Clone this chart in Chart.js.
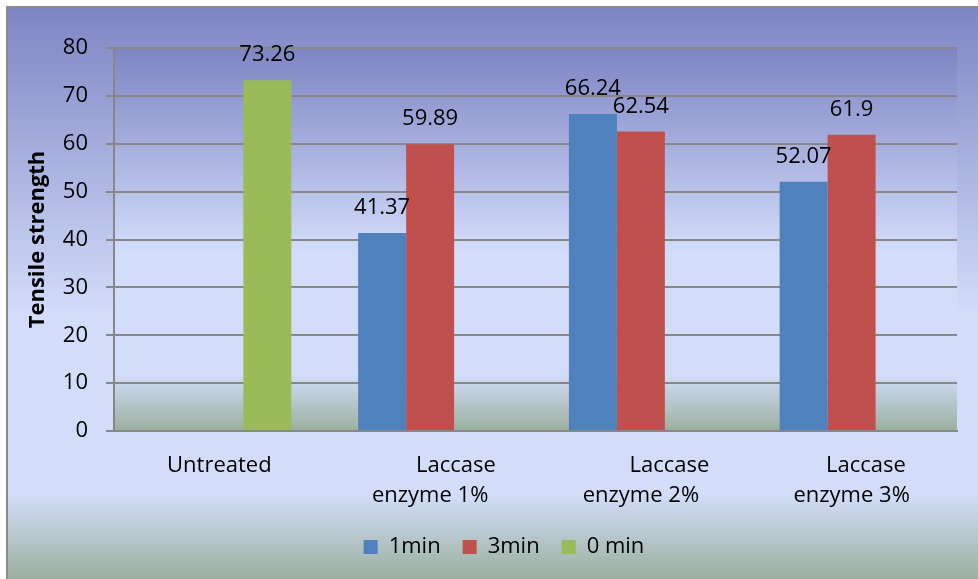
<!DOCTYPE html>
<html>
<head>
<meta charset="utf-8">
<script src="https://cdn.jsdelivr.net/npm/chart.js@4.4.1/dist/chart.umd.min.js"></script>
<style>
  html, body { margin: 0; padding: 0; background: #ffffff; }
  canvas { display: block; }
</style>
</head>
<body>
<canvas id="chart" width="978" height="579"></canvas>
<script>
// Category labels (leading spaces keep the wrapped first line offset as in the source layout)
const categories = [
  ['Untreated'],
  ['         Laccase', 'enzyme 1%'],
  ['          Laccase', 'enzyme 2%'],
  ['     Laccase', 'enzyme 3%']
];

// Series names and values (Tensile strength)
const seriesNames = ['1min', '3min', '0 min'];
const oneMin   = [null, 41.37, 66.24, 52.07];
const threeMin = [null, 59.89, 62.54, 61.9];
const zeroMin  = [73.26, null, null, null];

// Y axis ticks
const yMin = 0;
const yMax = 80;
const yStep = 10;
const yTitle = 'Tensile strength';

const seriesColors = ['#4f81bd', '#c0504d', '#9bbb59'];
const FONT = '"Open Sans"';
const GRID = '#878787';

// Vertical blue-to-pale-to-sage fill used for the chart and plot backgrounds
function fillGradient(ctx, x, y, w, h) {
  const g = ctx.createLinearGradient(0, y, 0, y + h);
  g.addColorStop(0, '#7f85c3');
  g.addColorStop(0.54, '#d3ddfa');
  g.addColorStop(0.85, '#d3ddfa');
  g.addColorStop(1, '#9bb09f');
  ctx.fillStyle = g;
  ctx.fillRect(x, y, w, h);
}

const backdrop = {
  id: 'backdrop',
  beforeDraw(chart) {
    const { ctx, width, height, chartArea: a } = chart;
    ctx.save();
    ctx.fillStyle = '#ffffff';
    ctx.fillRect(0, 0, width, height);
    fillGradient(ctx, 7, 7, width - 7, height - 7);
    ctx.strokeStyle = '#8c8c8c';
    ctx.lineWidth = 2;
    ctx.beginPath();
    ctx.moveTo(7, height);
    ctx.lineTo(7, 7);
    ctx.lineTo(width, 7);
    ctx.stroke();
    fillGradient(ctx, a.left, a.top, a.right - a.left, a.bottom - a.top);
    ctx.restore();
  }
};

// Value labels above each bar
const valueLabels = {
  id: 'valueLabels',
  afterDatasetsDraw(chart) {
    const { ctx } = chart;
    ctx.save();
    ctx.font = `22px ${FONT}`;
    ctx.fillStyle = '#000000';
    ctx.textAlign = 'center';
    ctx.textBaseline = 'alphabetic';
    chart.data.datasets.forEach((ds, di) => {
      const meta = chart.getDatasetMeta(di);
      meta.data.forEach((bar, i) => {
        const v = ds.data[i];
        if (v === null || v === undefined) return;
        ctx.fillText(String(v), bar.x, bar.y - 19);
      });
    });
    ctx.restore();
  }
};

const PAD_LEFT = 51;

new Chart(document.getElementById('chart'), {
  type: 'bar',
  data: {
    labels: categories,
    datasets: [
      { label: seriesNames[0], data: oneMin,   backgroundColor: seriesColors[0] },
      { label: seriesNames[1], data: threeMin, backgroundColor: seriesColors[1] },
      { label: seriesNames[2], data: zeroMin,  backgroundColor: seriesColors[2] }
    ]
  },
  options: {
    responsive: false,
    animation: false,
    devicePixelRatio: 1,
    layout: { padding: { left: PAD_LEFT, right: 21, top: 48, bottom: 11 } },
    datasets: { bar: { barPercentage: 1, categoryPercentage: 0.683, borderWidth: 0 } },
    scales: {
      x: {
        grid: { display: false },
        border: { display: true, color: GRID, width: 2 },
        ticks: {
          color: '#000000',
          font: { family: FONT, size: 22, lineHeight: 1.364 },
          padding: 12,
          maxRotation: 0,
          autoSkip: false
        },
        afterFit(scale) { scale.height = 83; }
      },
      y: {
        min: yMin,
        max: yMax,
        ticks: {
          stepSize: yStep,
          color: '#000000',
          font: { family: FONT, size: 22 },
          padding: 18
        },
        grid: { color: GRID, lineWidth: 2, tickLength: 8, drawTicks: true },
        border: { display: true, color: GRID, width: 2 },
        title: {
          display: true,
          text: yTitle,
          color: '#000000',
          font: { family: FONT, size: 22, weight: 'bold' },
          padding: { top: -26, bottom: 0 }
        },
        afterFit(scale) { scale.width = 114 - PAD_LEFT; }
      }
    },
    plugins: {
      legend: {
        position: 'bottom',
        labels: {
          boxWidth: 14,
          boxHeight: 14,
          padding: 22,
          color: '#000000',
          font: { family: FONT, size: 22 }
        }
      },
      tooltip: { enabled: false }
    }
  },
  plugins: [backdrop, valueLabels]
});
</script>
</body>
</html>
